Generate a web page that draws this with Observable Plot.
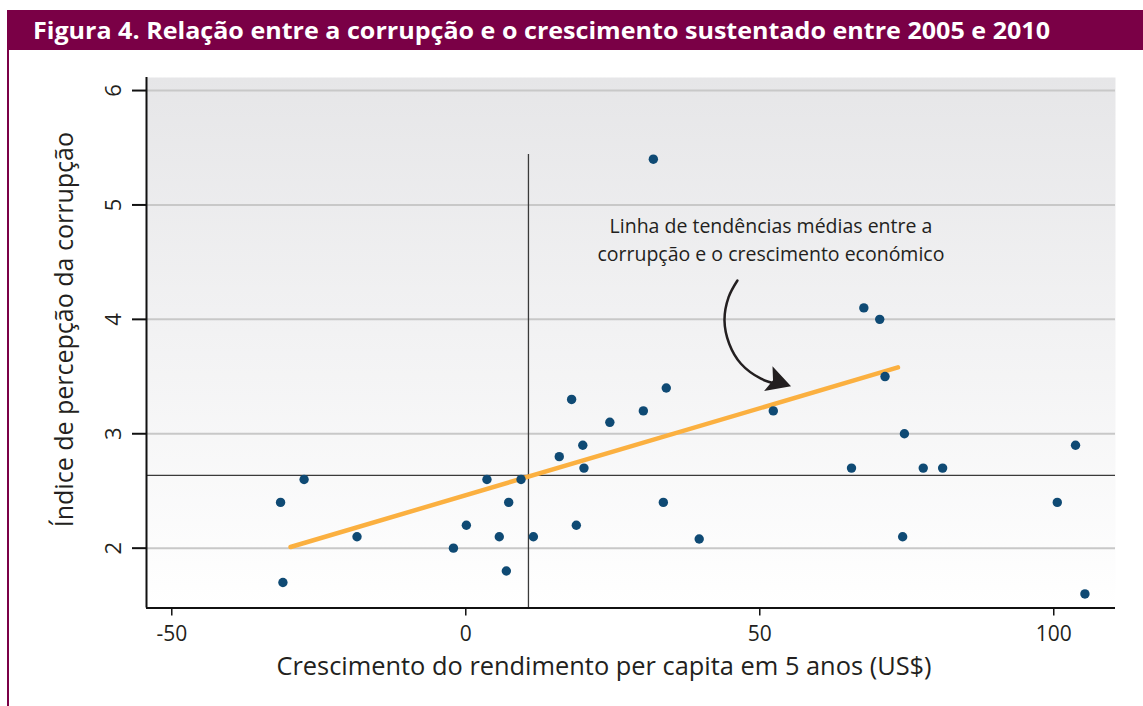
<!DOCTYPE html>
<html>
<head>
<meta charset="utf-8">
<script src="https://cdn.jsdelivr.net/npm/d3@7"></script>
<script src="https://cdn.jsdelivr.net/npm/@observablehq/plot@0.6"></script>
<style>
  html, body { margin: 0; padding: 0; background: #ffffff; }
  body { width: 1143px; height: 706px; position: relative; overflow: hidden; font-family: "Open Sans", sans-serif; }
  #chart { position: absolute; left: 0; top: 0; }
  #band { position: absolute; left: 7px; top: 10px; width: 1136px; height: 40px; background: #7a0046; z-index: 2; }
  #title { position: absolute; left: 26px; top: 0; line-height: 40px; color: #ffffff; font-weight: 700; font-size: 24px; white-space: nowrap; transform-origin: 0 50%; }
  #border { position: absolute; left: 7px; top: 50px; width: 2px; height: 656px; background: #7a0046; z-index: 2; }
</style>
</head>
<body>
<div id="band"><span id="title">Figura 4. Relação entre a corrupção e o crescimento sustentado entre 2005 e 2010</span></div>
<div id="border"></div>
<div id="chart"></div>
<script>
// ---- data ----
const growthX = [-31.5, -27.5, -31.1, -18.5, -2.1, 0.1, 3.6, 9.4, 7.3, 5.7, 6.9, 11.5, 15.9, 19.9, 20.1, 18.0, 24.5, 30.2, 34.1, 18.8, 33.6, 39.7, 52.3, 31.9, 67.7, 70.4, 71.3, 74.6, 65.6, 77.8, 81.1, 74.3, 103.7, 100.6, 105.3];
const corruptionY = [2.40, 2.60, 1.70, 2.10, 2.00, 2.20, 2.60, 2.60, 2.40, 2.10, 1.80, 2.10, 2.80, 2.90, 2.70, 3.30, 3.10, 3.20, 3.40, 2.20, 2.40, 2.08, 3.20, 5.40, 4.10, 4.00, 3.50, 3.00, 2.70, 2.70, 2.70, 2.10, 2.90, 2.40, 1.60];
const trendX = [-29.8, 73.5];
const trendY = [2.01, 3.58];
const meanX = 10.66;
const meanY = 2.636;
const meanLineTop = 5.44;
const xTicks = [-50, 0, 50, 100];
const yTicks = [2, 3, 4, 5, 6];
const xDomain = [-54.3, 110.5];
const yDomain = [1.477, 6.114];
const xTitle = "Crescimento do rendimento per capita em 5 anos (US$)";
const yTitle = "Índice de percepção da corrupção";
const yTitlePos = {x: -68.1, y: 3.91};
const noteText = "Linha de tendências médias entre a\ncorrupção e o crescimento económico";
const notePos = {x: 51.9, y: 4.93};
const arrowX = [46.2, 44.7, 44.0, 44.8, 46.8, 50.2, 53.1];
const arrowY = [4.340, 4.194, 3.991, 3.787, 3.612, 3.481, 3.431];
const arrowHead = {x: 52.9, y: 3.457, angle: 18.8};

const points = growthX.map((x, i) => ({x, y: corruptionY[i]}));
const trend = trendX.map((x, i) => ({x, y: trendY[i]}));
const arrowPath = arrowX.map((x, i) => ({x, y: arrowY[i]}));

const stealth = {
  draw(context) {
    context.moveTo(15, 0);
    context.lineTo(-9, -13);
    context.lineTo(-4, 0);
    context.lineTo(-9, 13);
    context.closePath();
  }
};

const defs = () => {
  const d = d3.create("svg:defs");
  const g = d.append("linearGradient").attr("id", "bggrad").attr("x1", 0).attr("y1", 0).attr("x2", 0).attr("y2", 1);
  g.append("stop").attr("offset", "0%").attr("stop-color", "#e6e6e8");
  g.append("stop").attr("offset", "100%").attr("stop-color", "#ffffff");
  return d.node();
};

const chart = Plot.plot({
  width: 1143,
  height: 706,
  marginTop: 77,
  marginBottom: 98.5,
  marginLeft: 146,
  marginRight: 28,
  style: {background: "transparent", fontFamily: "'Open Sans', sans-serif", color: "#231f20"},
  x: {domain: xDomain},
  y: {domain: yDomain},
  marks: [
    defs,
    Plot.frame({fill: "url(#bggrad)", stroke: "none"}),
    Plot.ruleY(yTicks, {stroke: "#c8c8c8", strokeWidth: 2}),
    Plot.ruleY([meanY], {stroke: "#3a3a3a", strokeWidth: 1.3}),
    Plot.ruleX([meanX], {y1: yDomain[0], y2: meanLineTop, stroke: "#3a3a3a", strokeWidth: 1.3}),
    Plot.line(trend, {x: "x", y: "y", stroke: "#fbb040", strokeWidth: 4.5}),
    Plot.dot(points, {x: "x", y: "y", r: 4.7, fill: "#0f4a74", stroke: "none"}),
    Plot.line(arrowPath, {x: "x", y: "y", curve: "catmull-rom", stroke: "#231f20", strokeWidth: 2.5}),
    Plot.dot([arrowHead], {x: "x", y: "y", symbol: stealth, rotate: "angle", fill: "#231f20", stroke: "none", r: 5}),
    Plot.text([noteText], {x: notePos.x, y: notePos.y, lineAnchor: "top", lineHeight: 1.45, fontSize: 19.5, fill: "#231f20"}),
    Plot.ruleX([xDomain[0]], {stroke: "#111", strokeWidth: 2}),
    Plot.ruleY([yDomain[0]], {stroke: "#111", strokeWidth: 2}),
    Plot.axisX({ticks: xTicks, tickSize: 8, tickPadding: 10, fontSize: 21, label: null, tickFormat: d => String(d), stroke: "#111", strokeWidth: 1.5}),
    Plot.axisY({ticks: yTicks, tickSize: 14, tickPadding: 12, tickRotate: -90, fontSize: 22, label: null, tickFormat: d => String(d), stroke: "#111", strokeWidth: 2}),
    Plot.text([xTitle], {frameAnchor: "bottom", dx: -27, dy: 58.5, fontSize: 25.4, lineAnchor: "middle"}),
    Plot.text([yTitle], {x: yTitlePos.x, y: yTitlePos.y, rotate: -90, fontSize: 25, lineAnchor: "middle"})
  ]
});
document.getElementById("chart").appendChild(chart);

// fit title width to reference
const t = document.getElementById("title");
const w = t.getBoundingClientRect().width;
const target = 1017;
t.style.transform = `scaleX(${(target / w).toFixed(4)})`;
</script>
</body>
</html>
